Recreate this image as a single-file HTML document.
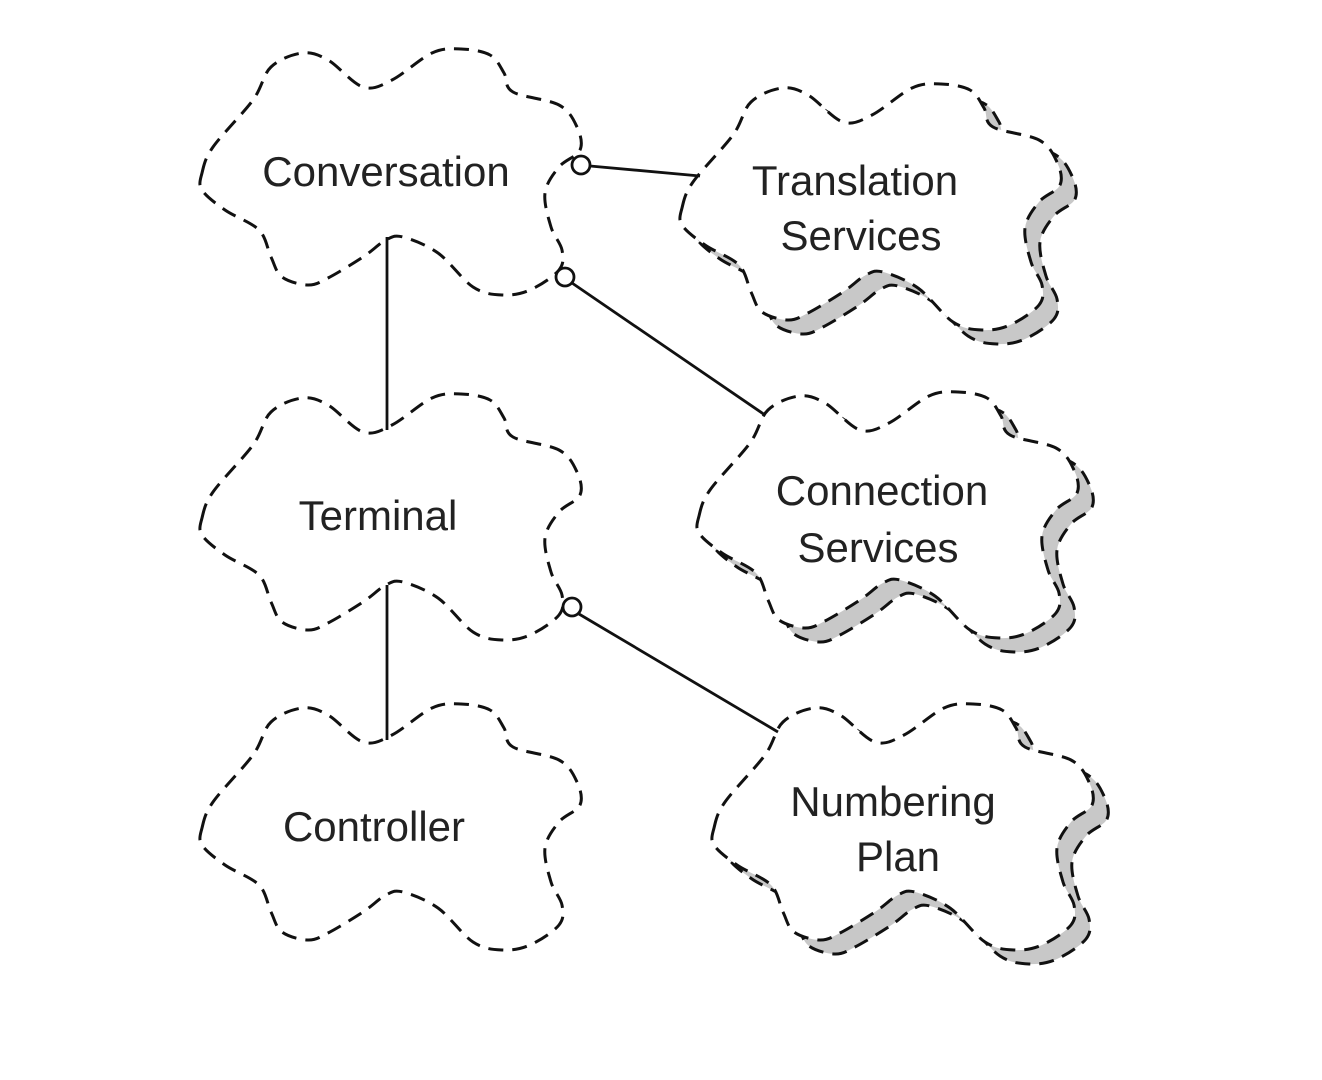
<!DOCTYPE html>
<html><head><meta charset="utf-8">
<style>
html,body{margin:0;padding:0;background:#fff;}
svg{display:block;}
text{font-family:"Liberation Sans",Arial,sans-serif;font-size:42px;fill:#222;text-anchor:middle;}
</style></head>
<body>
<svg id="s" width="1322" height="1080" viewBox="0 0 1322 1080" xmlns="http://www.w3.org/2000/svg">
<g id="clouds"></g>
<g stroke="#111" stroke-width="2.8" fill="none">
<line x1="387" y1="237" x2="387" y2="430"/>
<line x1="387" y1="585" x2="387" y2="740"/>
<line x1="590" y1="166" x2="700" y2="176"/>
<line x1="572" y1="283" x2="765" y2="415"/>
<line x1="579" y1="614" x2="778" y2="732"/>
<circle cx="581" cy="165" r="9" fill="#fff"/>
<circle cx="565" cy="277" r="9" fill="#fff"/>
<circle cx="572" cy="607" r="9" fill="#fff"/>
</g>
<text x="386" y="186">Conversation</text>
<text x="378" y="530">Terminal</text>
<text x="374" y="841">Controller</text>
<text x="855" y="195">Translation</text>
<text x="861" y="250">Services</text>
<text x="882" y="505">Connection</text>
<text x="878" y="562">Services</text>
<text x="893" y="816">Numbering</text>
<text x="898" y="871">Plan</text>
</svg>
<script>
var P=[[202,173],[213,147],[253,100],[271,67],[302,53],[328,60],[363,87],[392,80],[432,53],[461,49],[490,55],[504,73],[513,92],[559,105],[577,127],[580,150],[559,167],[545,193],[551,227],[562,250],[559,270],[530,290],[502,295],[473,287],[438,253],[403,237],[386,240],[363,257],[328,278],[308,285],[282,277],[271,257],[259,230],[225,210],[202,190]];
function path(dx,dy){
  var n=P.length,d="";
  function p(i){var q=P[(i+n)%n];return [q[0]+dx,q[1]+dy];}
  d="M"+p(0).join(",");
  for(var i=0;i<n;i++){
    var p0=p(i-1),p1=p(i),p2=p(i+1),p3=p(i+2);
    var c1=[p1[0]+(p2[0]-p0[0])/6,p1[1]+(p2[1]-p0[1])/6];
    var c2=[p2[0]-(p3[0]-p1[0])/6,p2[1]-(p3[1]-p1[1])/6];
    d+=" C"+c1.map(v=>v.toFixed(1))+" "+c2.map(v=>v.toFixed(1))+" "+p2.map(v=>v.toFixed(1));
  }
  return d+"Z";
}
var g=document.getElementById("clouds"),NS="http://www.w3.org/2000/svg";
function add(dx,dy,fill){
  var e=document.createElementNS(NS,"path");
  e.setAttribute("d",path(dx,dy));
  e.setAttribute("fill",fill);
  e.setAttribute("stroke","#111");
  e.setAttribute("stroke-width","3");
  e.setAttribute("stroke-dasharray","15 9");
  g.appendChild(e);
}
add(0,0,"#fff");add(0,345,"#fff");add(0,655,"#fff");
[[480,35],[497,343],[512,655]].forEach(function(o){add(o[0]+15,o[1]+14,"#c8c8c8");add(o[0],o[1],"#fff");});
</script>
</body></html>
